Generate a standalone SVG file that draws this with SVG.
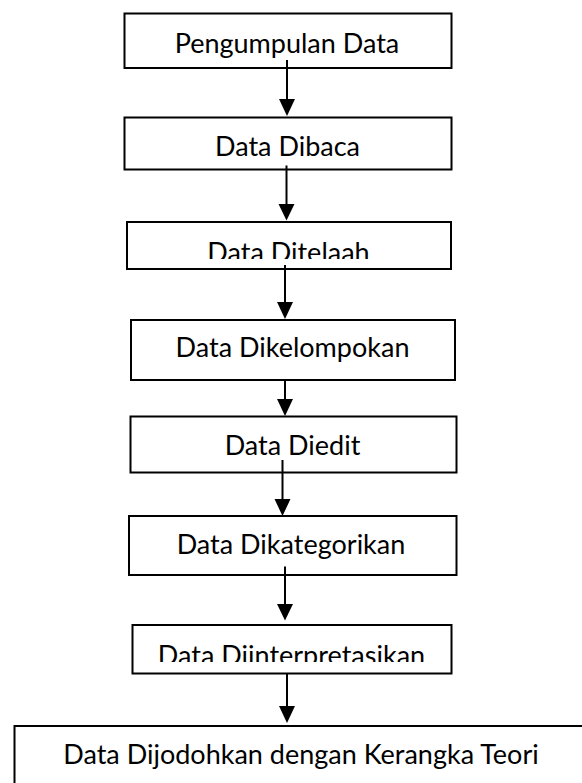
<svg xmlns="http://www.w3.org/2000/svg" width="582" height="783" viewBox="0 0 582 783">
  <style>
    .box { fill: #ffffff; stroke: #000000; stroke-width: 2; }
    .label { font-family: Lato, "Open Sans", "Liberation Sans", sans-serif; font-size: 27px; fill: #000000; text-anchor: middle; }
    .link { stroke: #000000; stroke-width: 2; fill: none; }
    .head { fill: #000000; stroke: none; }
  </style>
  <defs>
    <!-- text areas of the two boxes whose label is cut off at the bottom -->
    <clipPath id="clip-telaah"><rect x="127" y="222" width="324" height="37"/></clipPath>
    <clipPath id="clip-interpretasi"><rect x="132" y="625" width="320" height="37"/></clipPath>
  </defs>
  <rect width="582" height="783" fill="#ffffff"/>

  <g id="node-pengumpulan">
    <rect class="box" x="124.5" y="13.5" width="327" height="54.5"/>
    <text class="label" x="287" y="52.5">Pengumpulan Data</text>
  </g>
  <g id="node-dibaca">
    <rect class="box" x="124.5" y="117.5" width="327" height="52"/>
    <text class="label" x="287.5" y="156">Data Dibaca</text>
  </g>
  <g id="node-ditelaah">
    <rect class="box" x="127" y="222" width="324" height="47"/>
    <text class="label" x="288.5" y="262" clip-path="url(#clip-telaah)">Data Ditelaah</text>
  </g>
  <g id="node-dikelompokan">
    <rect class="box" x="131" y="320" width="324" height="60"/>
    <text class="label" x="292.5" y="356.5">Data Dikelompokan</text>
  </g>
  <g id="node-diedit">
    <rect class="box" x="130.5" y="416.5" width="326" height="56"/>
    <text class="label" x="292.5" y="455">Data Diedit</text>
  </g>
  <g id="node-dikategorikan">
    <rect class="box" x="129" y="516" width="327.5" height="59"/>
    <text class="label" x="291" y="553.5">Data Dikategorikan</text>
  </g>
  <g id="node-diinterpretasikan">
    <rect class="box" x="132.5" y="625" width="319" height="48.5"/>
    <text class="label" x="291.5" y="665" clip-path="url(#clip-interpretasi)">Data Diinterpretasikan</text>
  </g>
  <g id="node-dijodohkan">
    <rect class="box" x="14.5" y="726" width="576" height="80"/>
    <text class="label" x="301" y="764">Data Dijodohkan dengan Kerangka Teori</text>
  </g>

  <g id="connectors">
    <line class="link" x1="287" y1="60" x2="287" y2="100"/>
    <polygon class="head" points="279,99 295,99 287,116"/>
    <line class="link" x1="286.5" y1="165.5" x2="286.5" y2="205"/>
    <polygon class="head" points="278.5,204 294.5,204 286.5,220.5"/>
    <line class="link" x1="285" y1="265" x2="285" y2="303"/>
    <polygon class="head" points="277,302 293,302 285,319"/>
    <line class="link" x1="285" y1="380" x2="285" y2="400"/>
    <polygon class="head" points="277,399 293,399 285,416"/>
    <line class="link" x1="282.5" y1="460" x2="282.5" y2="500"/>
    <polygon class="head" points="274.5,499 290.5,499 282.5,516"/>
    <line class="link" x1="285" y1="566.5" x2="285" y2="605"/>
    <polygon class="head" points="277,604 293,604 285,620.5"/>
    <line class="link" x1="287" y1="673" x2="287" y2="707"/>
    <polygon class="head" points="279,706 295,706 287,723"/>
  </g>
</svg>
